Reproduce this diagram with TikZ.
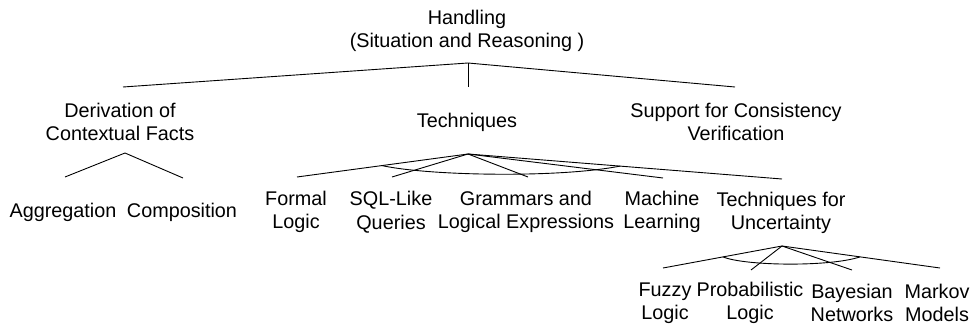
\documentclass[tikz,border=0pt]{standalone}
\usepackage{fontspec}
\setmainfont{Liberation Sans}
\begin{document}
\begin{tikzpicture}[x=1pt,y=-1pt,
  lbl/.style={font=\fontsize{19.8}{23.5}\selectfont, align=center, inner sep=0pt},
  conn/.style={line width=0.9pt, black}]
\useasboundingbox[fill=white] (0,0) rectangle (975,326);
% text nodes
\node[lbl] (hand) at (467,31) {Handling\\(Situation and Reasoning )};
\node[lbl] (deriv) at (120,122) {Derivation of\\Contextual Facts};
\node[lbl] (tech) at (467,122) {Techniques};
\node[lbl] (supp) at (736,122) {Support for Consistency\\Verification};
\node[lbl] (aggr) at (63,212) {Aggregation};
\node[lbl] (comp) at (182,212) {Composition};
\node[lbl] (form) at (296,212) {Formal\\Logic};
\node[lbl] (sql) at (391,212) {SQL-Like\\Queries};
\node[lbl] (gram) at (526,212) {Grammars and\\Logical Expressions};
\node[lbl] (mach) at (662,212) {Machine\\Learning};
\node[lbl] (tunc) at (781,213) {Techniques for\\Uncertainty};
\node[lbl] (fuzz) at (665,303) {Fuzzy\\Logic};
\node[lbl] (prob) at (750,303) {Probabilistic\\Logic};
\node[lbl] (baye) at (852,303) {Bayesian\\Networks};
\node[lbl] (mark) at (937,303) {Markov\\Models};
% connector points
\coordinate (hA) at (468,63);
\coordinate (hL) at (123,87);
\coordinate (hM) at (468,87);
\coordinate (hR) at (735,87);
\coordinate (dA) at (125,153);
\coordinate (dL) at (65,177);
\coordinate (dR) at (183,178);
\coordinate (tA) at (468,154);
\coordinate (t1) at (297,177);
\coordinate (t2) at (392,177);
\coordinate (t3) at (528,177);
\coordinate (t4) at (663,178);
\coordinate (t5) at (782,179);
\coordinate (tS) at (382,165.6);
\coordinate (tE) at (620,166.1);
\coordinate (uA) at (782,246);
\coordinate (u1) at (663,268);
\coordinate (u2) at (751,270);
\coordinate (u3) at (852,270);
\coordinate (u4) at (940,268);
\coordinate (uS) at (723,256.9);
\coordinate (uE) at (860,256.9);
% connectors
\draw[conn] (hL) -- (hA) -- (hR);
\draw[conn, line width=0.7pt] (hA) -- (hM);
\draw[conn] (dL) -- (dA) -- (dR);
\foreach \c in {t1,t2,t3,t4,t5} \draw[conn] (tA) -- (\c);
\draw[conn] (tS) .. controls (430,176) and (560,178) .. (tE);
\foreach \c in {u1,u2,u3,u4} \draw[conn] (uA) -- (\c);
\draw[conn] (uS) .. controls (745,266) and (830,267) .. (uE);
\end{tikzpicture}
\end{document}
